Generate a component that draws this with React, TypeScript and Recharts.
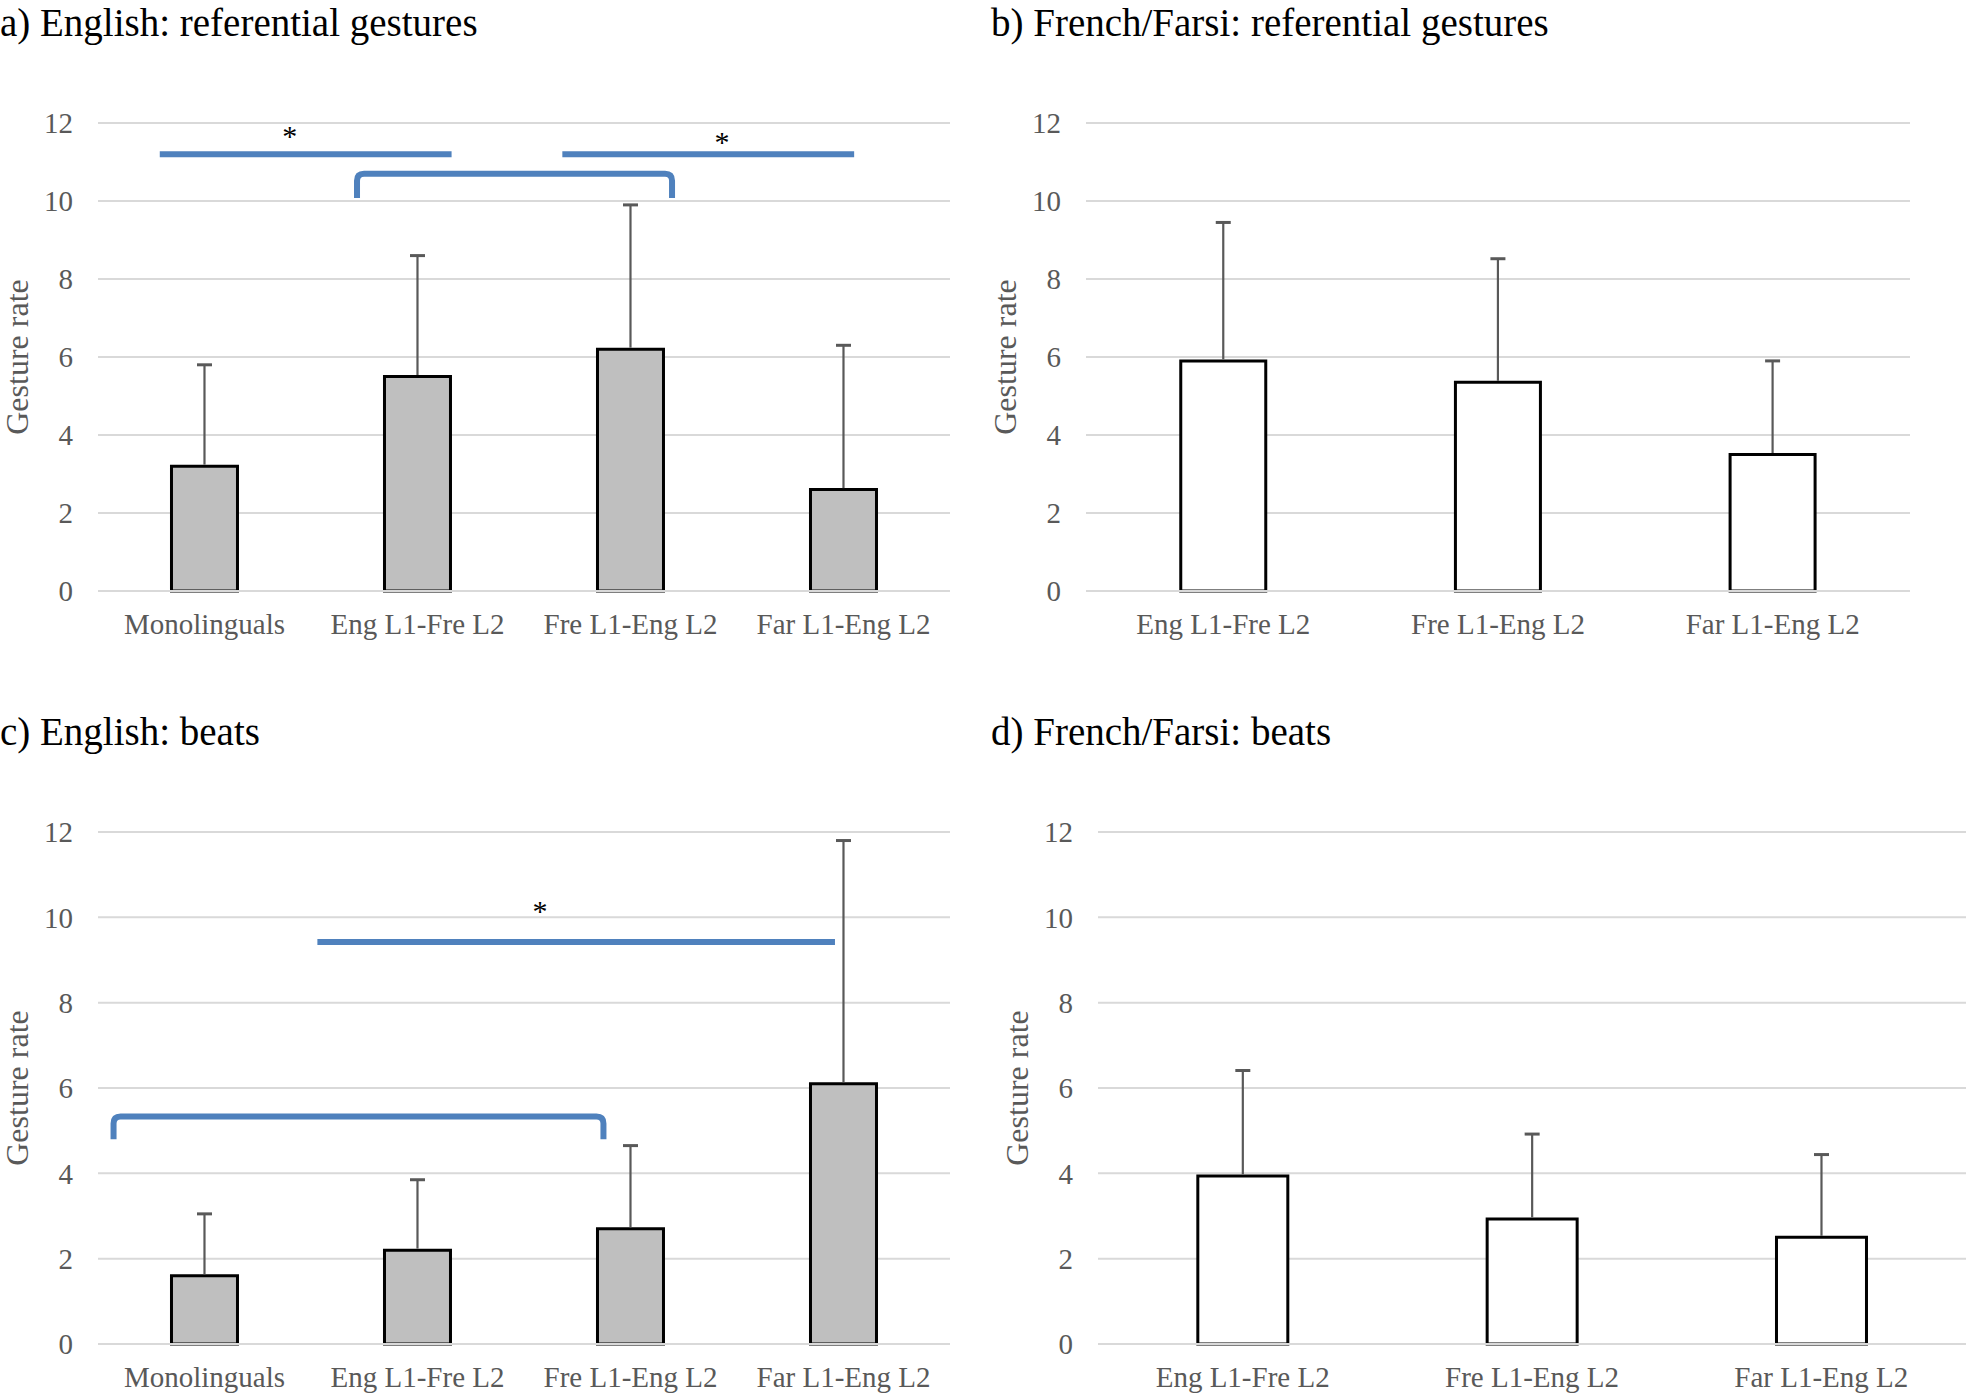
import {
  BarChart,
  Bar,
  XAxis,
  YAxis,
  CartesianGrid,
  ReferenceLine,
  ReferenceDot,
} from "recharts"

const englishGroups = ["Monolinguals", "Eng L1-Fre L2", "Fre L1-Eng L2", "Far L1-Eng L2"]
const otherGroups = ["Eng L1-Fre L2", "Fre L1-Eng L2", "Far L1-Eng L2"]

// mean gesture rate and the upper error (SD) per group
const englishRefMean = [3.2, 5.5, 6.2, 2.6]
const englishRefErr = [2.6, 3.1, 3.7, 3.7]
const otherRefMean = [5.9, 5.35, 3.5]
const otherRefErr = [3.55, 3.17, 2.4]
const englishBeatMean = [1.6, 2.2, 2.7, 6.1]
const englishBeatErr = [1.45, 1.65, 1.95, 5.7]
const otherBeatMean = [3.94, 2.93, 2.5]
const otherBeatErr = [2.47, 1.99, 1.94]

const yTicks = [0, 2, 4, 6, 8, 10, 12]

// significance markers, x in group index units, y in gesture rate
type Span = { from: number; to: number; y: number }
type Bracket = { from: number; to: number; top: number; bottom: number }
type Star = { x: number; y: number }

const refSpans: Span[] = [
  { from: -0.21, to: 1.16, y: 11.2 },
  { from: 1.68, to: 3.05, y: 11.2 },
]
const refStars: Star[] = [
  { x: 0.4, y: 11.74 },
  { x: 2.43, y: 11.6 },
]
const refBrackets: Bracket[] = [{ from: 0.716, to: 2.195, top: 10.7, bottom: 10.08 }]

const beatSpans: Span[] = [{ from: 0.53, to: 2.96, y: 9.42 }]
const beatStars: Star[] = [{ x: 1.575, y: 10.21 }]
const beatBrackets: Bracket[] = [{ from: -0.427, to: 1.873, top: 5.33, bottom: 4.8 }]

const SERIF = "'Liberation Serif', 'Times New Roman', serif"
const GRID = "#d9d9d9"
const TEXT = "#595959"
const BLUE = "#4f81bd"

const tickStyle = { fill: TEXT, fontSize: 29, fontFamily: SERIF }

const renderYLabel = (p: any) => {
  const vb = p.viewBox
  const x = vb.x + vb.width - 70
  const y = vb.y + vb.height / 2
  return (
    <text
      x={x}
      y={y}
      transform={`rotate(-90 ${x} ${y})`}
      textAnchor="middle"
      fill={TEXT}
      fontSize={32}
      fontFamily={SERIF}
    >
      Gesture rate
    </text>
  )
}

// upper whisker only, sitting on top of the mean bar
const renderErrorBar = (p: any) => {
  const cx = p.x + p.width / 2
  return (
    <g>
      <line x1={cx} x2={cx} y1={p.y} y2={p.y + p.height - 1.5} stroke={TEXT} strokeWidth={2.2} />
      <line x1={cx - 7.5} x2={cx + 7.5} y1={p.y} y2={p.y} stroke={TEXT} strokeWidth={3} />
    </g>
  )
}

// left leg bottom -> right leg top, drawn as a rounded bracket
const renderBracket = (p: any) => {
  const { x1, y1, x2, y2 } = p
  const r = 7
  const d = `M${x1},${y1} L${x1},${y2 + r} Q${x1},${y2} ${x1 + r},${y2} L${x2 - r},${y2} Q${x2},${y2} ${x2},${y2 + r} L${x2},${y1}`
  return <path d={d} fill="none" stroke={BLUE} strokeWidth={6} />
}

const renderStar = (p: any) => (
  <text x={p.cx} y={p.cy + 13} textAnchor="middle" fontSize={30} fontFamily={SERIF} fill="#000">
    *
  </text>
)

type Box = { left: number; top: number; width: number; height: number; right: number }

function Panel({
  groups,
  mean,
  err,
  fill,
  box,
  spans = [],
  stars = [],
  brackets = [],
}: {
  groups: string[]
  mean: number[]
  err: number[]
  fill: string
  box: Box
  spans?: Span[]
  stars?: Star[]
  brackets?: Bracket[]
}) {
  const rows = groups.map((g, i) => ({ group: g, idx: i, mean: mean[i], err: err[i] }))

  return (
    <div style={{ position: "absolute", left: box.left, top: box.top }}>
      <BarChart
        width={box.width}
        height={box.height}
        data={rows}
        margin={{ top: 20, right: box.right, bottom: 0, left: 0 }}
        barCategoryGap="34.5%"
      >
        <CartesianGrid vertical={false} stroke={GRID} strokeWidth={2} />
        <XAxis
          dataKey="group"
          interval={0}
          tickLine={false}
          tickSize={0}
          tickMargin={22}
          height={50}
          axisLine={{ stroke: GRID, strokeWidth: 2 }}
          tick={tickStyle}
        />
        <XAxis
          xAxisId="pos"
          type="number"
          dataKey="idx"
          domain={[-0.5, groups.length - 0.5]}
          allowDataOverflow
          hide
        />
        <YAxis
          domain={[0, 12]}
          ticks={yTicks}
          width={98}
          tickLine={false}
          axisLine={false}
          tickSize={0}
          tickMargin={25}
          tick={tickStyle}
          label={{ content: renderYLabel }}
        />
        <Bar
          dataKey="mean"
          stackId="g"
          fill={fill}
          stroke="#000"
          strokeWidth={3}
          isAnimationActive={false}
        />
        <Bar dataKey="err" stackId="g" shape={renderErrorBar} isAnimationActive={false} />
        <ReferenceLine y={0} stroke={GRID} strokeWidth={2} />
        {spans.map((s, i) => (
          <ReferenceLine
            key={`s${i}`}
            xAxisId="pos"
            segment={[
              { x: s.from, y: s.y },
              { x: s.to, y: s.y },
            ]}
            stroke={BLUE}
            strokeWidth={6}
          />
        ))}
        {brackets.map((b, i) => (
          <ReferenceLine
            key={`b${i}`}
            xAxisId="pos"
            segment={[
              { x: b.from, y: b.bottom },
              { x: b.to, y: b.top },
            ]}
            shape={renderBracket}
          />
        ))}
        {stars.map((s, i) => (
          <ReferenceDot key={`t${i}`} xAxisId="pos" x={s.x} y={s.y} shape={renderStar} />
        ))}
      </BarChart>
    </div>
  )
}

const titles = [
  { text: "a) English: referential gestures", x: 0, y: 36 },
  { text: "b) French/Farsi: referential gestures", x: 991, y: 36 },
  { text: "c) English: beats", x: 0, y: 745 },
  { text: "d) French/Farsi: beats", x: 991, y: 745 },
]

export default function App() {
  return (
    <div
      style={{
        position: "absolute",
        left: 0,
        top: 0,
        width: 1967,
        height: 1396,
        overflow: "hidden",
        background: "#fff",
      }}
    >
      <svg width={1967} height={1396} style={{ position: "absolute", left: 0, top: 0 }}>
        {titles.map((t) => (
          <text key={t.text} x={t.x} y={t.y} fontSize={39} fontFamily={SERIF} fill="#000">
            {t.text}
          </text>
        ))}
      </svg>
      <Panel
        groups={englishGroups}
        mean={englishRefMean}
        err={englishRefErr}
        fill="#bfbfbf"
        box={{ left: 0, top: 103, width: 960, height: 538, right: 10 }}
        spans={refSpans}
        stars={refStars}
        brackets={refBrackets}
      />
      <Panel
        groups={otherGroups}
        mean={otherRefMean}
        err={otherRefErr}
        fill="#ffffff"
        box={{ left: 988, top: 103, width: 932, height: 538, right: 10 }}
      />
      <Panel
        groups={englishGroups}
        mean={englishBeatMean}
        err={englishBeatErr}
        fill="#bfbfbf"
        box={{ left: 0, top: 812, width: 960, height: 582, right: 10 }}
        spans={beatSpans}
        stars={beatStars}
        brackets={beatBrackets}
      />
      <Panel
        groups={otherGroups}
        mean={otherBeatMean}
        err={otherBeatErr}
        fill="#ffffff"
        box={{ left: 1000, top: 812, width: 967, height: 582, right: 1 }}
      />
    </div>
  )
}
